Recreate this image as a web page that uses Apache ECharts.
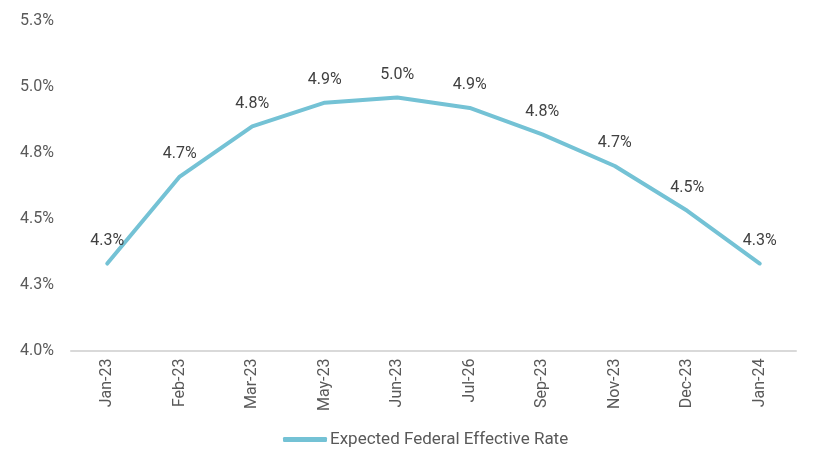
<!DOCTYPE html>
<html>
<head>
<meta charset="utf-8">
<script src="https://cdn.jsdelivr.net/npm/echarts@6/dist/echarts.min.js"></script>
<style>html,body{margin:0;padding:0;background:#fff}#c{width:840px;height:454px}</style>
</head>
<body>
<div id="c"></div>
<script>
var categories = ['Jan-23','Feb-23','Mar-23','May-23','Jun-23','Jul-26','Sep-23','Nov-23','Dec-23','Jan-24'];
var rates = [4.33, 4.66, 4.85, 4.94, 4.96, 4.92, 4.82, 4.70, 4.53, 4.33];
var seriesName = 'Expected Federal Effective Rate';
var yMin = 4.0, yMax = 5.25, yInterval = 0.25;
var lineColor = '#74C2D5';

var chart = echarts.init(document.getElementById('c'));
chart.setOption({
  animation: false,
  textStyle: {fontFamily: 'Roboto'},
  grid: {left: 71, right: 44, top: 21, bottom: 103.5, containLabel: false},
  legend: {
    left: 283, top: 431, padding: 0,
    icon: 'roundRect', itemWidth: 44, itemHeight: 5, itemGap: 4,
    itemStyle: {color: lineColor, opacity: 1},
    textStyle: {fontFamily: 'Roboto', fontSize: 17, color: '#595959', padding: [0,0,0,-2]},
    data: [seriesName]
  },
  xAxis: {
    type: 'category', data: categories, boundaryGap: true,
    axisLine: {lineStyle: {color: '#D9D9D9', width: 2}},
    axisTick: {show: false},
    axisLabel: {rotate: 90, margin: 8, fontSize: 16, color: '#595959', fontFamily: 'Roboto'}
  },
  yAxis: {
    type: 'value', min: yMin, max: yMax, interval: yInterval,
    axisLine: {show: false}, axisTick: {show: false}, splitLine: {show: false},
    axisLabel: {margin: 17, fontSize: 16, color: '#595959', fontFamily: 'Roboto',
      formatter: function(v){ return v.toFixed(1) + '%'; }}
  },
  series: [{
    name: seriesName, type: 'line', data: rates,
    symbol: 'circle', symbolSize: 1, showSymbol: true, smooth: false,
    lineStyle: {color: lineColor, width: 4, cap: 'round', join: 'round'},
    itemStyle: {color: 'rgba(0,0,0,0)', borderWidth: 0},
    label: {show: true, position: 'top', distance: 14, fontSize: 16, color: '#404040', fontFamily: 'Roboto',
      formatter: function(p){ return p.value.toFixed(1) + '%'; }}
  }]
});
</script>
</body>
</html>
